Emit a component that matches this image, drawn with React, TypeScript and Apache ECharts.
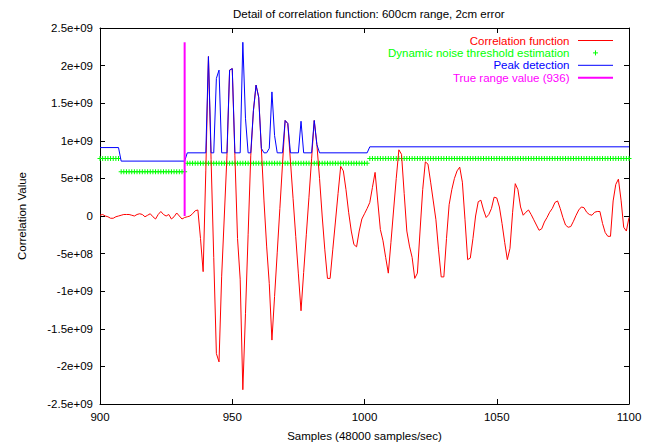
import React, { useEffect, useRef } from 'react';
import * as echarts from 'echarts';

// ---------- data (values in units of 1e9) ----------
const SAMPLE_START = 900; // first sample index; one value per sample up to 1100

const correlationE9 = [
  0.01, 0.02, 0.0, -0.01, -0.03, -0.03, -0.01, 0.0, 0.01, 0.02,
  0.02, 0.02, 0.01, 0.0, 0.02, 0.03, 0.02, -0.01, 0.01, 0.03,
  -0.01, -0.04, 0.02, 0.06, 0.02, 0.0, 0.02, -0.04, -0.01, 0.04,
  0.0, -0.04, -0.02, -0.01, 0.0, 0.03, 0.07, 0.08, -0.3, -0.74,
  0.6, 2.12, 0.75, -0.55, -1.83, -1.94, -0.8, 0.0, 0.8, 1.94,
  1.96, 0.8, -0.3, -0.84, -2.31, -1.3, -0.25, 0.8, 1.4, 1.74,
  1.58, 0.9, 0.2, -0.4, -0.9, -1.65, -1.07, -0.49, 0.1, 0.69,
  1.27, 1.23, 0.73, 0.23, -0.27, -0.77, -1.26, -0.75, -0.25, 0.25,
  0.76, 1.27, 0.95, 0.5, 0.0, -0.45, -0.83, -0.83, -0.45, -0.08,
  0.3, 0.66, 0.6, 0.35, 0.05, -0.2, -0.38, -0.41, -0.2, -0.04,
  0.03, 0.1, 0.18, 0.38, 0.58, 0.2, -0.18, -0.33, -0.55, -0.76,
  -0.35, 0.08, 0.5, 0.88, 0.82, 0.3, -0.2, -0.4, -0.55, -0.83,
  -0.76, -0.2, 0.35, 0.72, 0.69, 0.45, 0.2, -0.05, -0.45, -0.81,
  -0.81, -0.3, 0.15, 0.35, 0.5, 0.6, 0.65, 0.45, -0.05, -0.58,
  -0.56, -0.3, 0.0, 0.19, 0.21, 0.08, -0.02, 0.02, 0.1, 0.25,
  0.24, 0.12, -0.1, -0.35, -0.58, -0.43, 0.05, 0.43, 0.35, 0.12,
  0.01, 0.05, 0.08, 0.02, -0.05, -0.12, -0.19, -0.17, -0.08, -0.02,
  0.05, 0.1, 0.18, 0.2, 0.1, -0.02, -0.12, -0.15, -0.14, -0.07,
  0.01, 0.08, 0.12, 0.11, 0.05, 0.02, 0.01, 0.05, 0.06, 0.06,
  -0.1, -0.22, -0.27, -0.27, 0.2, 0.42, 0.49, 0.21, -0.15, -0.2,
  -0.02,
];

// threshold levels: [first sample, last sample, level]
const thresholdRunsE9: [number, number, number][] = [
  [900, 907, 0.766],
  [908, 932, 0.588],
  [933, 1001, 0.7],
  [1002, 1100, 0.766],
];

// peak detection vertices: [sample, level]
const peakDetectionE9: [number, number][] = [
  [900, 0.91], [907, 0.91], [908, 0.73], [932, 0.73], [933, 0.84], [940, 0.84],
  [941, 2.12], [942, 0.84], [943, 0.84], [944, 1.83], [945, 1.94], [946, 0.84],
  [948, 0.84], [949, 1.94], [950, 1.96], [951, 0.84], [953, 0.84], [954, 2.31],
  [955, 1.3], [956, 0.84], [957, 0.84], [958, 1.4], [959, 1.74], [960, 1.58],
  [961, 0.9], [962, 0.84], [963, 0.84], [964, 0.9], [965, 1.65], [966, 1.07],
  [967, 0.84], [969, 0.84], [970, 1.27], [971, 1.23], [972, 0.84], [975, 0.84],
  [976, 1.26], [977, 0.84], [980, 0.84], [981, 1.27], [982, 0.95], [983, 0.84],
  [1001, 0.84], [1002, 0.92], [1100, 0.92],
];

const trueRangeSample = 932;
const trueRangePeakE9 = 2.31;

const xTicks = [900, 950, 1000, 1050, 1100];
const xTickLabels = ['900', '950', '1000', '1050', '1100'];
const yTickValues = [-2.5e9, -2e9, -1.5e9, -1e9, -5e8, 0, 5e8, 1e9, 1.5e9, 2e9, 2.5e9];
const yTickLabels = ['-2.5e+09', '-2e+09', '-1.5e+09', '-1e+09', '-5e+08', '0', '5e+08', '1e+09', '1.5e+09', '2e+09', '2.5e+09'];

const seriesNames = [
  'Correlation function',
  'Dynamic noise threshold estimation',
  'Peak detection',
  'True range value (936)',
];
const seriesColors = ['#ff0000', '#00ff00', '#0000ff', '#ff00ff'];

const FONT = '"Liberation Sans", Arial, Helvetica, sans-serif';
const FS = 11.5;

export default function App() {
  const ref = useRef<HTMLDivElement>(null);

  useEffect(() => {
    if (!ref.current) return;
    const chart = echarts.init(ref.current, undefined, { renderer: 'svg' });

    const E9 = 1e9;
    const corrData = correlationE9.map((v, i) => [SAMPLE_START + i, v * E9]);
    const thrData: number[][] = [];
    thresholdRunsE9.forEach(([a, b, lvl]) => {
      for (let s = a; s <= b; s++) thrData.push([s, lvl * E9]);
    });
    const peakData = peakDetectionE9.map(([s, v]) => [s, v * E9]);
    const trueData = [[trueRangeSample, 0], [trueRangeSample, trueRangePeakE9 * E9]];

    const xBase = {
      type: 'value',
      min: xTicks[0],
      max: xTicks[xTicks.length - 1],
      interval: xTicks[1] - xTicks[0],
      axisLine: { show: true, onZero: false, lineStyle: { color: '#000', width: 1 } },
      axisTick: { show: true, inside: true, length: 5, lineStyle: { color: '#000', width: 1 } },
      splitLine: { show: false },
    };
    const yBase = {
      type: 'value',
      min: yTickValues[0],
      max: yTickValues[yTickValues.length - 1],
      interval: yTickValues[1] - yTickValues[0],
      axisLine: { show: true, onZero: false, lineStyle: { color: '#000', width: 1 } },
      axisTick: { show: true, inside: true, length: 5, lineStyle: { color: '#000', width: 1 } },
      splitLine: { show: false },
    };

    const legendX = 569.5;
    const legendY0 = 40.5;
    const legendDy = 12.4;
    const lineX1 = 578;
    const lineX2 = 613;
    const graphic: any[] = [];
    seriesNames.forEach((name, i) => {
      const y = legendY0 + i * legendDy;
      graphic.push({
        type: 'text',
        x: legendX,
        y,
        style: {
          text: name,
          fill: seriesColors[i],
          fontSize: FS,
          fontFamily: FONT,
          align: 'right',
          textAlign: 'right',
          verticalAlign: 'middle',
          textVerticalAlign: 'middle',
        },
      });
      if (i === 1) {
        const cx = (lineX1 + lineX2) / 2;
        graphic.push({ type: 'line', shape: { x1: cx - 2.5, y1: y, x2: cx + 2.5, y2: y }, style: { stroke: seriesColors[i], lineWidth: 1 } });
        graphic.push({ type: 'line', shape: { x1: cx, y1: y - 2.5, x2: cx, y2: y + 2.5 }, style: { stroke: seriesColors[i], lineWidth: 1 } });
      } else {
        graphic.push({
          type: 'line',
          shape: { x1: lineX1, y1: y, x2: lineX2, y2: y },
          style: { stroke: seriesColors[i], lineWidth: i === 3 ? 2 : 1 },
        });
      }
    });

    const option: any = {
      animation: false,
      backgroundColor: '#ffffff',
      title: {
        text: 'Detail of correlation function: 600cm range, 2cm error',
        left: 228,
        top: 3,
        textStyle: { fontSize: FS, fontWeight: 'normal', color: '#000', fontFamily: FONT },
      },
      grid: { left: 100, right: 28, top: 28, bottom: 42, containLabel: false, outerBoundsMode: 'none' },
      xAxis: [
        {
          ...xBase,
          position: 'bottom',
          axisLabel: {
            show: true,
            margin: 7,
            color: '#000',
            fontSize: FS,
            fontFamily: FONT,
            showMinLabel: true,
            showMaxLabel: true,
            formatter: (v: number) => {
              const idx = xTicks.findIndex((t) => Math.abs(t - v) < 1e-6);
              return idx >= 0 ? xTickLabels[idx] : String(v);
            },
          },
          name: 'Samples (48000 samples/sec)',
          nameLocation: 'middle',
          nameGap: 26,
          nameTextStyle: { color: '#000', fontSize: FS, fontFamily: FONT },
        },
        { ...xBase, position: 'top', axisLabel: { show: false } },
      ],
      yAxis: [
        {
          ...yBase,
          position: 'left',
          axisLabel: {
            show: true,
            margin: 7,
            color: '#000',
            fontSize: FS,
            fontFamily: FONT,
            showMinLabel: true,
            showMaxLabel: true,
            formatter: (v: number) => {
              const idx = yTickValues.findIndex((t) => Math.abs(t - v) < 1);
              return idx >= 0 ? yTickLabels[idx] : String(v);
            },
          },
          name: 'Correlation Value',
          nameLocation: 'middle',
          nameRotate: 90,
          nameGap: 72,
          nameTextStyle: { color: '#000', fontSize: FS, fontFamily: FONT },
        },
        { ...yBase, position: 'right', axisLabel: { show: false } },
      ],
      series: [
        {
          name: seriesNames[0],
          type: 'line',
          data: corrData,
          showSymbol: false,
          symbol: 'none',
          lineStyle: { color: seriesColors[0], width: 1 },
          itemStyle: { color: seriesColors[0] },
        },
        {
          name: seriesNames[1],
          type: 'scatter',
          data: thrData,
          symbol: 'path://M0,2L5,2L5,3L0,3Z M2,0L3,0L3,5L2,5Z',
          symbolSize: 5,
          itemStyle: { color: seriesColors[1], opacity: 1 },
        },
        {
          name: seriesNames[2],
          type: 'line',
          data: peakData,
          showSymbol: false,
          symbol: 'none',
          lineStyle: { color: seriesColors[2], width: 1 },
          itemStyle: { color: seriesColors[2] },
        },
        {
          name: seriesNames[3],
          type: 'line',
          data: trueData,
          showSymbol: false,
          symbol: 'none',
          lineStyle: { color: seriesColors[3], width: 2 },
          itemStyle: { color: seriesColors[3] },
        },
      ],
      graphic,
    };

    chart.setOption(option);
    return () => chart.dispose();
  }, []);

  return (
    <div
      ref={ref}
      style={{ position: 'fixed', left: 0, top: 0, width: 657, height: 446, background: '#fff' }}
    />
  );
}
